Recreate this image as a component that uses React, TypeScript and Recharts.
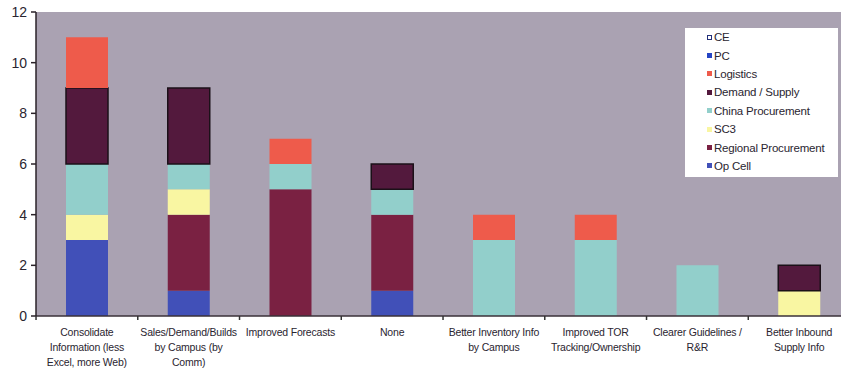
import React from 'react';
import { BarChart, Bar, XAxis, YAxis, CartesianGrid } from 'recharts';

const categories = [
  'Consolidate\nInformation (less\nExcel, more Web)',
  'Sales/Demand/Builds\nby Campus (by\nComm)',
  'Improved Forecasts',
  'None',
  'Better Inventory Info\nby Campus',
  'Improved TOR\nTracking/Ownership',
  'Clearer Guidelines /\nR&R',
  'Better Inbound\nSupply Info',
];

const opCell = [3, 1, 0, 1, 0, 0, 0, 0];
const regionalProcurement = [0, 3, 5, 3, 0, 0, 0, 0];
const sc3 = [1, 1, 0, 0, 0, 0, 0, 1];
const chinaProcurement = [2, 1, 1, 1, 3, 3, 2, 0];
const demandSupply = [3, 3, 0, 1, 0, 0, 0, 1];
const logistics = [2, 0, 1, 0, 1, 1, 0, 0];
const pc = [0, 0, 0, 0, 0, 0, 0, 0];
const ce = [0, 0, 0, 0, 0, 0, 0, 0];

const yTicks = [0, 2, 4, 6, 8, 10, 12];

// stacking order, bottom first
const series = [
  { key: 'opCell', name: 'Op Cell', values: opCell, color: '#4150b8' },
  { key: 'regional', name: 'Regional Procurement', values: regionalProcurement, color: '#7a2142' },
  { key: 'sc3', name: 'SC3', values: sc3, color: '#f9f6a2' },
  { key: 'china', name: 'China Procurement', values: chinaProcurement, color: '#92cfcb' },
  { key: 'demand', name: 'Demand / Supply', values: demandSupply, color: '#53193d', stroke: '#1b1018' },
  { key: 'logistics', name: 'Logistics', values: logistics, color: '#ee5b4b' },
  { key: 'pc', name: 'PC', values: pc, color: '#2544c4' },
  { key: 'ce', name: 'CE', values: ce, color: '#ffffff', stroke: '#23307a' },
];

const data = categories.map((name, i) => {
  const row: Record<string, any> = { name };
  series.forEach(s => { row[s.key] = s.values[i]; });
  return row;
});

const FONT = 'Liberation Sans, Arial, sans-serif';
const STEP = 101.7;

const CategoryTick: React.FC<any> = ({ x, y, payload, index, visibleTicksCount }) => {
  const lines = String(payload.value).split('\n');
  const top = y - 8;
  return (
    <g>
      <line x1={x - STEP / 2} x2={x - STEP / 2} y1={top} y2={top + 4} stroke="#333" strokeWidth={1.5} />
      {index === visibleTicksCount - 1 && (
        <line x1={x + STEP / 2} x2={x + STEP / 2} y1={top} y2={top + 4} stroke="#333" strokeWidth={1.5} />
      )}
      <text textAnchor="middle" fontSize={10.5} fill="#2a2530" fontFamily={FONT} letterSpacing={-0.2}>
        {lines.map((l, j) => (
          <tspan key={j} x={x} y={top + 20 + j * 15}>{l}</tspan>
        ))}
      </text>
    </g>
  );
};

// legend box: top entry is the last stacked series
const LegendBox = () => (
  <div style={{ position: 'absolute', left: 685, top: 28, width: 153, height: 149, background: '#fff', padding: '0 0 0 22px', boxSizing: 'border-box', fontFamily: FONT, fontSize: 11.5, letterSpacing: -0.2, color: '#2a2530', whiteSpace: 'nowrap' }}>
    {[...series].reverse().map(s => (
      <div key={s.key} style={{ display: 'flex', alignItems: 'center', height: 18.4 }}>
        <span style={{ width: 5, height: 5, flex: 'none', background: s.color, border: s.key === 'ce' ? '1.5px solid #23307a' : 'none', boxSizing: 'border-box', marginRight: 2 }} />
        {s.name}
      </div>
    ))}
  </div>
);

export default function App() {
  return (
    <div style={{ position: 'fixed', left: 0, top: 0, width: 841, height: 368, overflow: 'hidden', background: '#fff' }}>
      <BarChart width={850} height={368} data={data} margin={{ top: 12, right: 0, left: 0, bottom: 0 }} barSize={42}>
        <CartesianGrid fill="#aaa2b2" horizontal={false} vertical={false} />
        <XAxis
          dataKey="name"
          interval={0}
          height={52}
          tickLine={false}
          axisLine={{ stroke: '#3a3038', strokeWidth: 1.5 }}
          tick={<CategoryTick />}
        />
        <YAxis
          width={36}
          domain={[0, 12]}
          ticks={yTicks}
          interval={0}
          axisLine={{ stroke: '#2a2228', strokeWidth: 1.5 }}
          tickLine={{ stroke: '#2a2228', strokeWidth: 1.5 }}
          tickSize={5}
          tickMargin={4}
          tick={{ fill: '#2a2530', fontSize: 14, fontFamily: FONT }}
        />
        {series.map(s => (
          <Bar
            key={s.key}
            dataKey={s.key}
            name={s.name}
            stackId="a"
            fill={s.color}
            stroke={s.stroke}
            strokeWidth={s.stroke ? 1.5 : 0}
            isAnimationActive={false}
          />
        ))}
      </BarChart>
      <LegendBox />
    </div>
  );
}
